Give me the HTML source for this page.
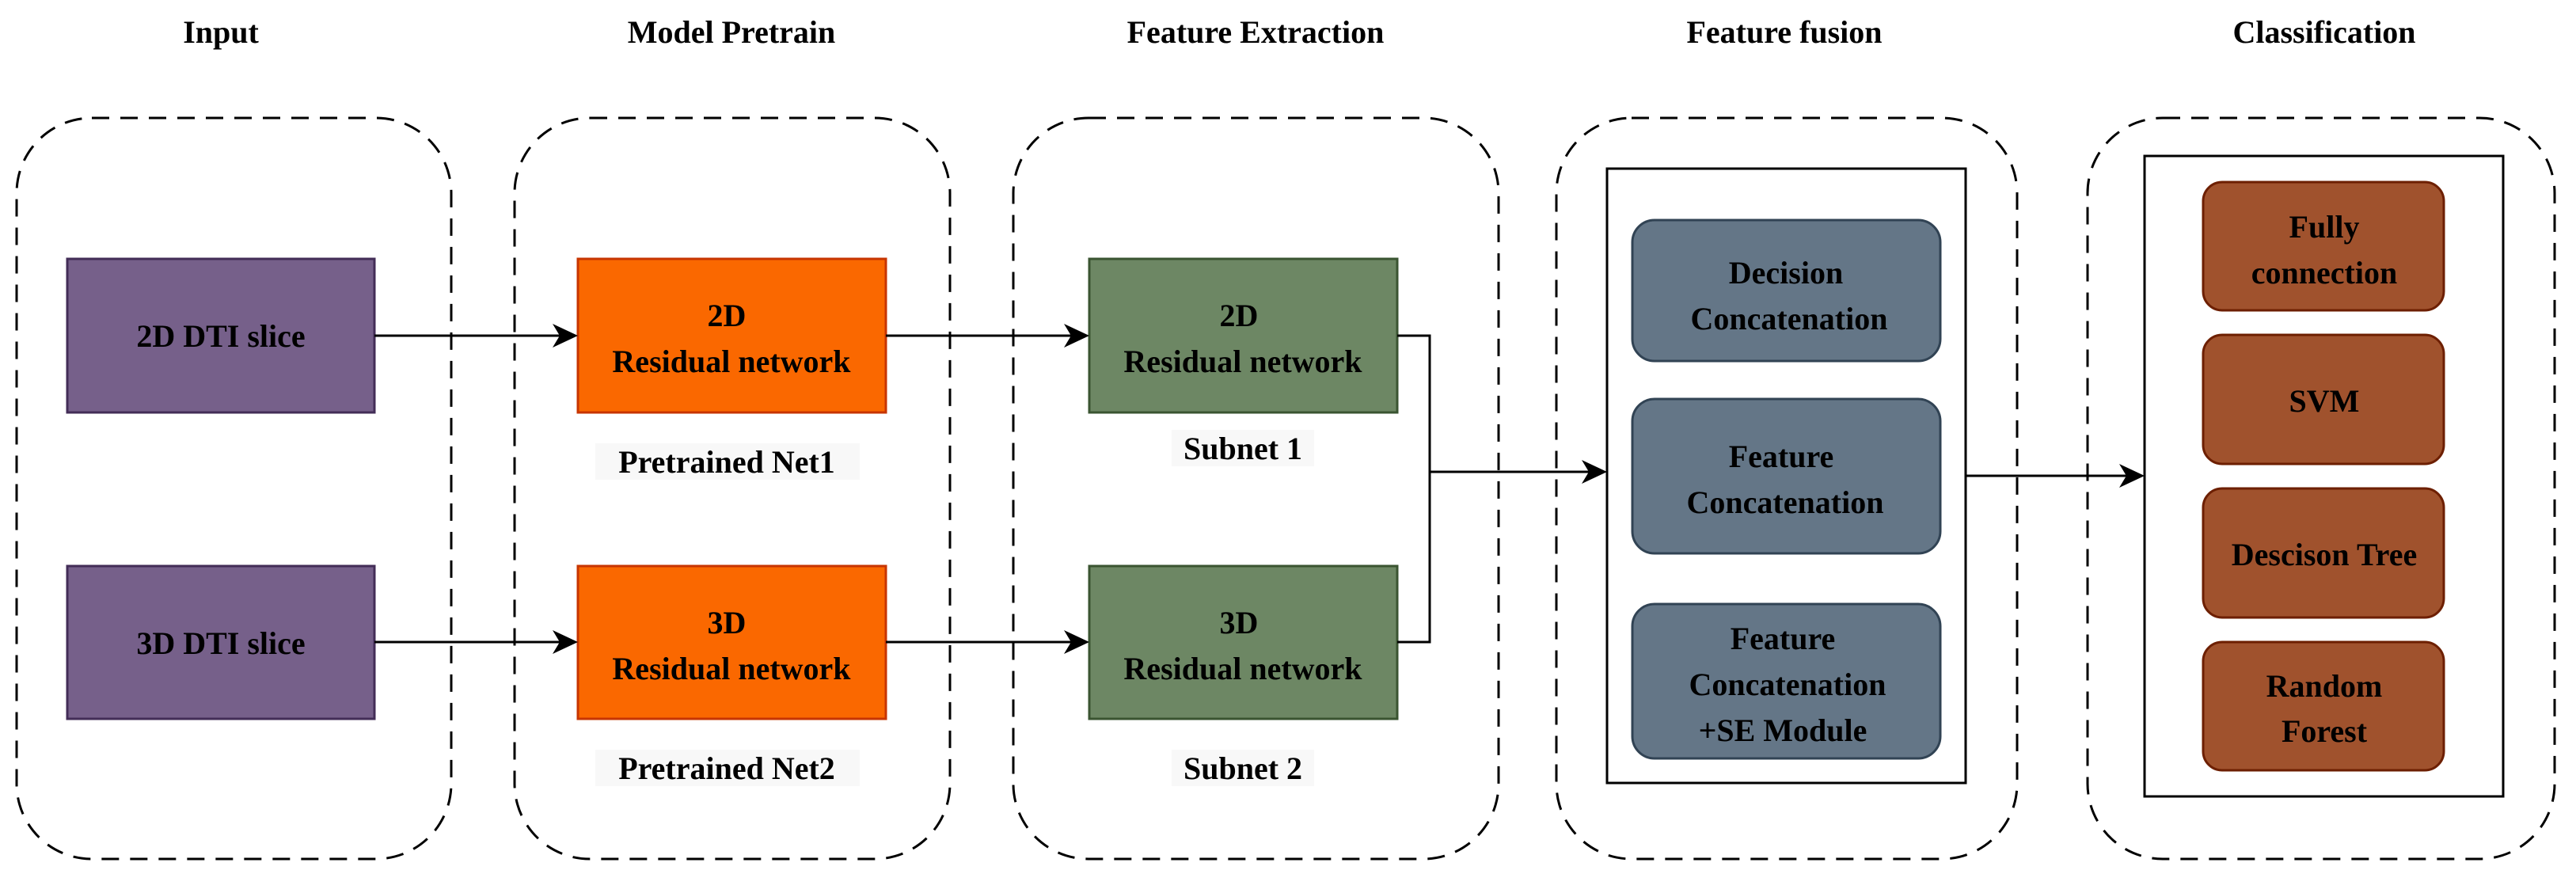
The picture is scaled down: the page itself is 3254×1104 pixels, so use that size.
<!DOCTYPE html>
<html><head><meta charset="utf-8"><style>
html,body{margin:0;padding:0;background:#fff;}
svg{display:block;}
text{font-family:"Liberation Serif",serif;font-weight:bold;font-size:40px;fill:#000;text-anchor:middle;}
</style></head><body>
<svg width="3254" height="1104" viewBox="0 0 3254 1104" xmlns="http://www.w3.org/2000/svg">
<defs>
<path id="ah" d="M0,0 L-32,-15 L-23,0 L-32,15 Z" fill="#000"/>
</defs>
<g fill="none" stroke="#000" stroke-width="3" stroke-dasharray="22,14">
<rect x="21" y="149" width="549" height="936" rx="95"/>
<rect x="650" y="149" width="550" height="936" rx="95"/>
<rect x="1280" y="149" width="613" height="936" rx="95"/>
<rect x="1966" y="149" width="582" height="936" rx="95"/>
<rect x="2637" y="149" width="590" height="936" rx="95"/>
</g>
<text x="279" y="54">Input</text>
<text x="924" y="54">Model Pretrain</text>
<text x="1586" y="54">Feature Extraction</text>
<text x="2254" y="54">Feature fusion</text>
<text x="2936" y="54">Classification</text>

<rect x="85" y="327" width="388" height="194" fill="#76608a" stroke="#432d57" stroke-width="3"/>
<text x="279" y="438">2D DTI slice</text>
<rect x="85" y="715" width="388" height="193" fill="#76608a" stroke="#432d57" stroke-width="3"/>
<text x="279" y="826">3D DTI slice</text>

<rect x="730" y="327" width="389" height="194" fill="#fa6800" stroke="#c73500" stroke-width="3"/>
<text x="918" y="412">2D</text><text x="924" y="470">Residual network</text>
<rect x="730" y="715" width="389" height="193" fill="#fa6800" stroke="#c73500" stroke-width="3"/>
<text x="918" y="800">3D</text><text x="924" y="858">Residual network</text>
<rect x="752" y="560" width="334" height="46" fill="#f8f8f8"/>
<text x="918" y="597">Pretrained Net1</text>
<rect x="752" y="947" width="334" height="46" fill="#f8f8f8"/>
<text x="918" y="984">Pretrained Net2</text>

<rect x="1376" y="327" width="389" height="194" fill="#6d8764" stroke="#3a5431" stroke-width="3"/>
<text x="1565" y="412">2D</text><text x="1570" y="470">Residual network</text>
<rect x="1376" y="715" width="389" height="193" fill="#6d8764" stroke="#3a5431" stroke-width="3"/>
<text x="1565" y="800">3D</text><text x="1570" y="858">Residual network</text>
<rect x="1480" y="543" width="180" height="46" fill="#f8f8f8"/>
<text x="1570" y="580">Subnet 1</text>
<rect x="1480" y="947" width="180" height="46" fill="#f8f8f8"/>
<text x="1570" y="984">Subnet 2</text>

<g stroke="#000" stroke-width="3" fill="none">
<line x1="473" y1="424" x2="710" y2="424"/>
<line x1="473" y1="811" x2="710" y2="811"/>
<line x1="1119" y1="424" x2="1356" y2="424"/>
<line x1="1119" y1="811" x2="1356" y2="811"/>
<polyline points="1765,424 1806,424 1806,811 1765,811"/>
<line x1="1806" y1="596" x2="2010" y2="596"/>
<line x1="2483" y1="601" x2="2690" y2="601"/>
</g>
<use href="#ah" x="730" y="424"/>
<use href="#ah" x="730" y="811"/>
<use href="#ah" x="1376" y="424"/>
<use href="#ah" x="1376" y="811"/>
<use href="#ah" x="2030" y="596"/>
<use href="#ah" x="2709" y="601"/>

<rect x="2030" y="213" width="453" height="776" fill="#fff" stroke="#000" stroke-width="3"/>
<g fill="#647687" stroke="#314354" stroke-width="3">
<rect x="2062" y="278" width="389" height="178" rx="28"/>
<rect x="2062" y="504" width="389" height="195" rx="28"/>
<rect x="2062" y="763" width="389" height="195" rx="28"/>
</g>
<text x="2256" y="358">Decision</text><text x="2260" y="416">Concatenation</text>
<text x="2250" y="590">Feature</text><text x="2255" y="648">Concatenation</text>
<text x="2252" y="820">Feature</text><text x="2258" y="878">Concatenation</text><text x="2252" y="936">+SE Module</text>

<rect x="2709" y="197" width="453" height="809" fill="#fff" stroke="#000" stroke-width="3"/>
<g fill="#a0522d" stroke="#6d1f00" stroke-width="3">
<rect x="2783" y="230" width="304" height="162" rx="24"/>
<rect x="2783" y="423" width="304" height="163" rx="24"/>
<rect x="2783" y="617" width="304" height="163" rx="24"/>
<rect x="2783" y="811" width="304" height="162" rx="24"/>
</g>
<text x="2936" y="300">Fully</text><text x="2936" y="358">connection</text>
<text x="2936" y="520">SVM</text>
<text x="2936" y="714">Descison Tree</text>
<text x="2936" y="880">Random</text><text x="2936" y="937">Forest</text>
</svg>
</body></html>
